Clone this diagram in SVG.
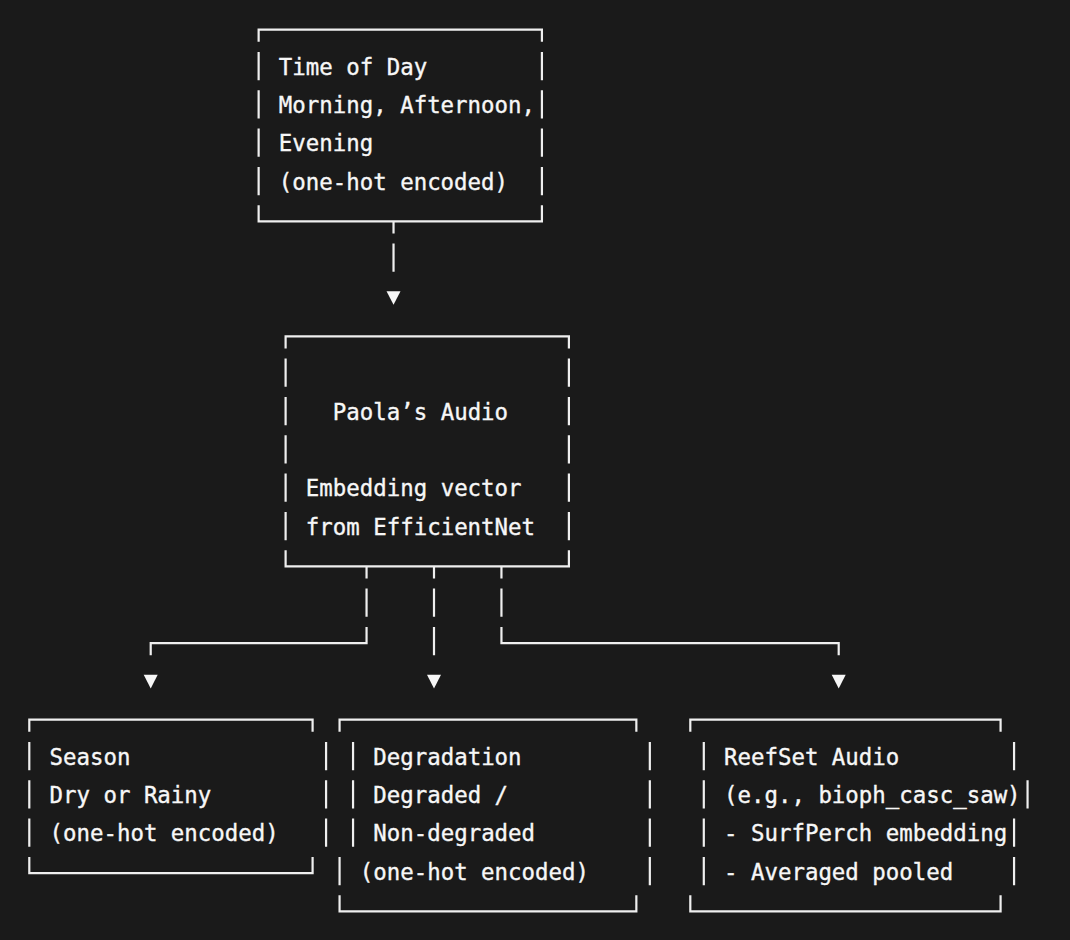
<svg xmlns="http://www.w3.org/2000/svg" xmlns:xlink="http://www.w3.org/1999/xlink" width="1070" height="940" viewBox="0 0 1070 940">
  <style>
    .ln { fill: none; stroke: #efefef; stroke-width: 2.2; stroke-linecap: butt; stroke-linejoin: miter; }
    .tx { font-family: "DejaVu Sans Mono", "Liberation Mono", monospace; font-size: 22.4px; fill: #f7f7f7; stroke: #f7f7f7; stroke-width: 0.35px; white-space: pre; }
    .ah { fill: #f7f7f7; }
  </style>
  <defs>
    <path id="arrow" d="M-7,0 H7 L0,13.6 Z"/>
  </defs>
  <rect x="0" y="0" width="1070" height="940" fill="#1a1a1a"/>

  <g id="node-time-of-day">
    <path class="ln" d="M258.63 41.8 V29.7 H541.92 V41.8 M258.63 205.27 V221.37 H541.92 V205.27
      M258.63 51.93 V80.13 M258.63 90.27 V118.47 M258.63 128.6 V156.8 M258.63 166.93 V195.13
      M541.92 51.93 V80.13 M541.92 90.27 V118.47 M541.92 128.6 V156.8 M541.92 166.93 V195.13"/>
    <text class="tx" x="278.87" y="74.53">Time of Day</text>
    <text class="tx" x="278.87" y="112.87">Morning, Afternoon,</text>
    <text class="tx" x="278.87" y="151.2">Evening</text>
    <text class="tx" x="278.87" y="189.53">(one-hot encoded)</text>
  </g>

  <g id="node-paola-audio">
    <path class="ln" d="M285.61 348.47 V336.37 H568.9 V348.47 M285.61 550.27 V566.37 H568.9 V550.27
      M285.61 358.6 V386.8 M285.61 396.93 V425.13 M285.61 435.27 V463.47 M285.61 473.6 V501.8 M285.61 511.93 V540.13
      M568.9 358.6 V386.8 M568.9 396.93 V425.13 M568.9 435.27 V463.47 M568.9 473.6 V501.8 M568.9 511.93 V540.13"/>
    <text class="tx" x="332.83" y="419.53">Paola’s Audio</text>
    <text class="tx" x="305.85" y="496.2">Embedding vector</text>
    <text class="tx" x="305.85" y="534.53">from EfficientNet</text>
  </g>

  <g id="node-season">
    <path class="ln" d="M29.3 731.8 V719.7 H312.59 V731.8 M29.3 856.93 V873.03 H312.59 V856.93
      M29.3 741.93 V770.13 M29.3 780.27 V808.47 M29.3 818.6 V846.8
      M326.08 741.93 V770.13 M326.08 780.27 V808.47 M326.08 818.6 V846.8"/>
    <text class="tx" x="49.54" y="764.53">Season</text>
    <text class="tx" x="49.54" y="802.87">Dry or Rainy</text>
    <text class="tx" x="49.54" y="841.2">(one-hot encoded)</text>
  </g>

  <g id="node-degradation">
    <path class="ln" d="M339.57 731.8 V719.7 H636.35 V731.8 M339.57 895.27 V911.37 H636.35 V895.27
      M353.06 741.93 V770.13 M353.06 780.27 V808.47 M353.06 818.6 V846.8 M339.57 856.93 V885.13
      M649.84 741.93 V770.13 M649.84 780.27 V808.47 M649.84 818.6 V846.8 M649.84 856.93 V885.13"/>
    <text class="tx" x="373.3" y="764.53">Degradation</text>
    <text class="tx" x="373.3" y="802.87">Degraded /</text>
    <text class="tx" x="373.3" y="841.2">Non-degraded</text>
    <text class="tx" x="359.8" y="879.53">(one-hot encoded)</text>
  </g>

  <g id="node-reefset-audio">
    <path class="ln" d="M690.31 731.8 V719.7 H1000.58 V731.8 M690.31 895.27 V911.37 H1000.58 V895.27
      M703.8 741.93 V770.13 M703.8 780.27 V808.47 M703.8 818.6 V846.8 M703.8 856.93 V885.13
      M1014.07 741.93 V770.13 M1027.56 780.27 V808.47 M1014.07 818.6 V846.8 M1014.07 856.93 V885.13"/>
    <text class="tx" x="724.04" y="764.53">ReefSet Audio</text>
    <text class="tx" x="724.04" y="802.87">(e.g., bioph_casc_saw)</text>
    <text class="tx" x="724.04" y="841.2">- SurfPerch embedding</text>
    <text class="tx" x="724.04" y="879.53">- Averaged pooled</text>
  </g>

  <g id="connectors">
    <path class="ln" d="M393.53 221.37 V233.47 M393.53 243.6 V271.8"/>
    <use class="ah" xlink:href="#arrow" href="#arrow" x="393.53" y="291.2"/>
    <path class="ln" d="M366.55 566.37 V578.47 M366.55 588.6 V616.8 M366.55 626.93 V643.03 H150.71 V655.13"/>
    <path class="ln" d="M434 566.37 V578.47 M434 588.6 V616.8 M434 626.93 V655.13"/>
    <path class="ln" d="M501.45 566.37 V578.47 M501.45 588.6 V616.8 M501.45 626.93 V643.03 H838.7 V655.13"/>
    <use class="ah" xlink:href="#arrow" href="#arrow" x="150.71" y="674.8"/>
    <use class="ah" xlink:href="#arrow" href="#arrow" x="434" y="674.8"/>
    <use class="ah" xlink:href="#arrow" href="#arrow" x="838.7" y="674.8"/>
  </g>
</svg>
